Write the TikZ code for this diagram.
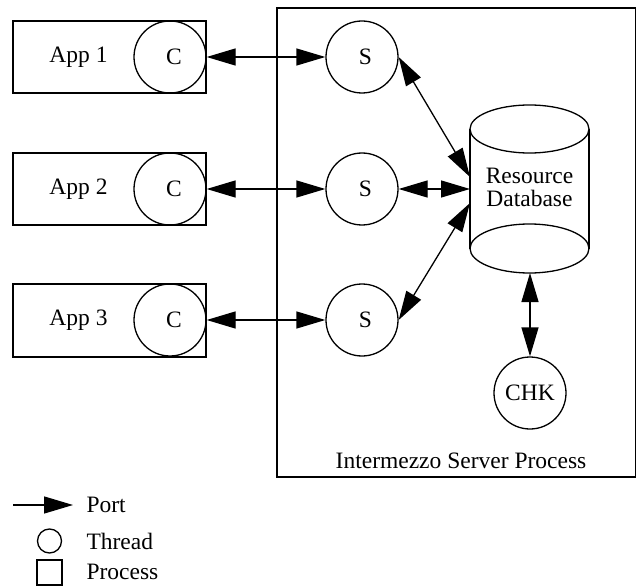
\documentclass[tikz,border=0pt]{standalone}
\usepackage{fontspec}
\setmainfont{Liberation Serif}
\usetikzlibrary{arrows.meta}
\begin{document}
\begin{tikzpicture}[x=1pt,y=-1pt,
  every node/.style={font=\fontsize{23.5}{27}\selectfont},
  ln/.style={line width=1.3pt},
  thr/.style={circle,draw,line width=1.3pt,minimum size=72pt,inner sep=0pt},
  prc/.style={draw,line width=1.3pt},
  port/.style={line width=1.3pt,{Triangle[length=29pt,width=17pt]}-{Triangle[length=29pt,width=17pt]}},
  porto/.style={line width=1.3pt,-{Triangle[length=29pt,width=17pt]}}]
\useasboundingbox (0,0) rectangle (637,588);
% server process box
\draw[prc] (277,8) rectangle (635.5,477);
\node (srvlabel) at (461,461) {Intermezzo Server Process};
% application processes
\draw[prc] (13,21) rectangle (206,93);
\draw[prc] (13,153) rectangle (206,225);
\draw[prc] (13,284) rectangle (206,357);
\node (app1) at (78.5,57) {App 1};
\node (app2) at (78.5,189) {App 2};
\node (app3) at (78.5,320) {App 3};
\node[thr] (c1) at (170,57) {\hspace{8pt}C};
\node[thr] (c2) at (170,189) {\hspace{8pt}C};
\node[thr] (c3) at (170,320) {\hspace{8pt}C};
\node[thr] (s1) at (362,57) {\hspace{7pt}S};
\node[thr] (s2) at (362,189) {\hspace{7pt}S};
\node[thr] (s3) at (362,320) {\hspace{7pt}S};
\node[thr] (chk) at (530,393) {CHK};
% database cylinder
\draw[ln] (470,129) -- (470,248.5);
\draw[ln] (589,129) -- (589,248.5);
\draw[ln,fill=white] (529.5,129) ellipse [x radius=59.5, y radius=24];
\draw[ln] (529.5,248.5) ellipse [x radius=59.5, y radius=24.5];
\node[align=center,inner sep=0pt] (db) at (529.5,187) {Resource\\[-4pt]Database};
\coordinate (dbw1) at (470,177);
\coordinate (dbw2) at (470,189);
\coordinate (dbw3) at (470,203);
\coordinate (dbs) at (530,273);
% ports
\draw[port] (c1) -- (s1);
\draw[port] (c2) -- (s2);
\draw[port] (c3) -- (s3);
\draw[port] (s1.east) -- (dbw1);
\draw[port] (s2.east) -- (dbw2);
\draw[port] (s3.east) -- (dbw3);
\draw[port] (dbs) -- (chk);
% legend
\coordinate (lp0) at (13,505);
\coordinate (lp1) at (73,505);
\draw[porto] (lp0) -- (lp1);
\node[anchor=west] (lport) at (83,505) {Port};
\node[circle,draw,line width=1.3pt,minimum size=24pt,inner sep=0pt] (lthr) at (49.5,541) {};
\node[anchor=west] (lthread) at (83,541) {Thread};
\node[draw,line width=1.3pt,minimum size=25pt,inner sep=0pt] (lprc) at (49.5,572.5) {};
\node[anchor=west] (lprocess) at (83,572) {Process};
\end{tikzpicture}
\end{document}
